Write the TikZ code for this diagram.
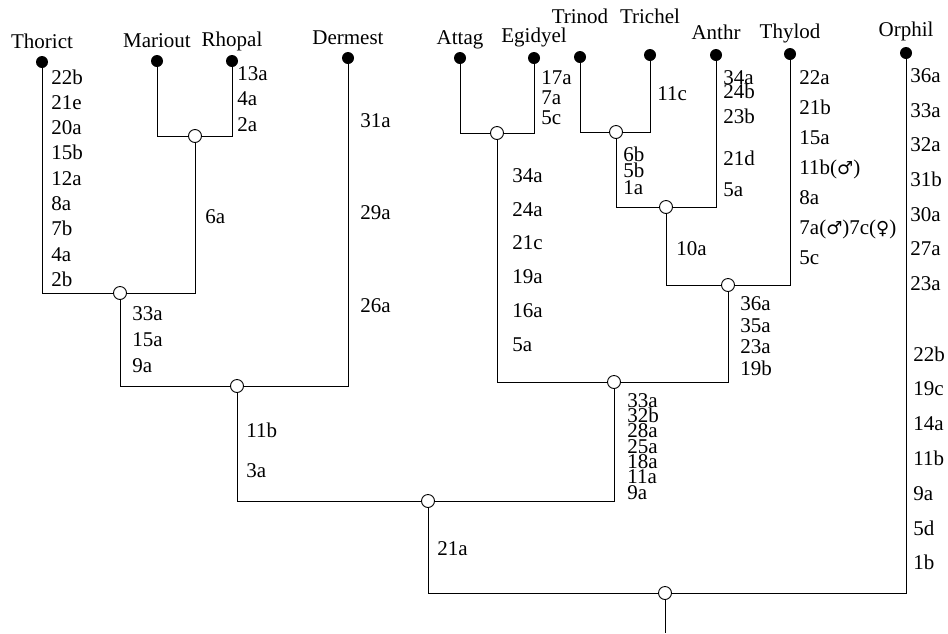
\documentclass[tikz,border=0pt]{standalone}
\usepackage{fontspec}
\setmainfont{Liberation Serif}
\newfontfamily\sexfont{DejaVu Sans}
\usetikzlibrary{positioning}
\lineskiplimit=-20pt
\newcommand\male{{\sexfont\fontsize{18}{18}\selectfont ♂}}
\newcommand\female{{\sexfont\fontsize{18}{18}\selectfont ♀}}

\begin{document}
\begin{tikzpicture}[x=1pt, y=-1pt, line width=0.9pt,
  leaf/.style={circle, fill, inner sep=0pt, minimum size=12pt},
  fork/.style={circle, draw, fill=white, inner sep=0pt, minimum size=13pt},
  taxon/.style={inner sep=0pt, text depth=0pt, font=\fontsize{21}{24}\selectfont},
  lab/.style={anchor=north west, align=left, inner sep=0pt,
    font=\fontsize{21}{#1}\selectfont},
  lab/.default=24]
  \useasboundingbox (0,0) rectangle (948,633);

  % terminal taxa
  \node[leaf] (thorict) at (42,62) {};
  \node[leaf] (mariout) at (157,61) {};
  \node[leaf] (rhopal) at (232,61) {};
  \node[leaf] (dermest) at (348,58) {};
  \node[leaf] (attag) at (460,58) {};
  \node[leaf] (egidyel) at (534,58) {};
  \node[leaf] (trinod) at (580,57) {};
  \node[leaf] (trichel) at (650,55) {};
  \node[leaf] (anthr) at (716,55) {};
  \node[leaf] (thylod) at (790,54) {};
  \node[leaf] (orphil) at (906,53) {};

  \node[taxon, above=7pt of thorict] (thorictname) {Thorict};
  \node[taxon, above=7pt of mariout] (marioutname) {Mariout};
  \node[taxon, above=8pt of rhopal] (rhopalname) {Rhopal};
  \node[taxon, above=7pt of dermest] (dermestname) {Dermest};
  \node[taxon, above=7pt of attag] (attagname) {Attag};
  \node[taxon, above=9pt of egidyel] (egidyelname) {Egidyel};
  \node[taxon, above=27pt of trinod] (trinodname) {Trinod};
  \node[taxon, above=25pt of trichel] (trichelname) {Trichel};
  \node[taxon, above=9pt of anthr] (anthrname) {Anthr};
  \node[taxon, above=9pt of thylod] (thylodname) {Thylod};
  \node[taxon, above=10pt of orphil] (orphilname) {Orphil};

  % internal nodes
  \node[fork] (mr) at (195,136) {};
  \node[fork] (tmr) at (120,293) {};
  \node[fork] (dt) at (237,386) {};
  \node[fork] (ae) at (497,133) {};
  \node[fork] (tt) at (616,132) {};
  \node[fork] (tta) at (666,207) {};
  \node[fork] (ttat) at (728,285) {};
  \node[fork] (aeall) at (614,382) {};
  \node[fork] (mid) at (428,501) {};
  \node[fork] (root) at (665,593) {};
  \coordinate (base) at (665,633);

  % branches
  \draw (mariout) |- (mr);
  \draw (rhopal) |- (mr);
  \draw (thorict) |- (tmr);
  \draw (mr) |- (tmr);
  \draw (tmr) |- (dt);
  \draw (dermest) |- (dt);
  \draw (attag) |- (ae);
  \draw (egidyel) |- (ae);
  \draw (trinod) |- (tt);
  \draw (trichel) |- (tt);
  \draw (tt) |- (tta);
  \draw (anthr) |- (tta);
  \draw (tta) |- (ttat);
  \draw (thylod) |- (ttat);
  \draw (ae) |- (aeall);
  \draw (ttat) |- (aeall);
  \draw (dt) |- (mid);
  \draw (aeall) |- (mid);
  \draw (mid) |- (root);
  \draw (orphil) |- (root);
  \draw (root) -- (base);

  % character states
  \node[lab=25.3] (thorictlab) at (51,69) {22b\\21e\\20a\\15b\\12a\\8a\\7b\\4a\\2b};
  \node[lab=25.5] (rhopallab) at (237,66) {13a\\4a\\2a};
  \node[lab] (mrlab) at (205,209) {6a};
  \node[lab=26] (tmrlab) at (132,306) {33a\\15a\\9a};
  \node[lab=92.5] (dermestlab) at (360,113) {31a\\29a\\26a};
  \node[lab=40] (dtlab) at (246,422) {11b\\3a};
  \node[lab] (midlab) at (437,541) {21a};
  \node[lab=20] (egidyellab) at (541,70) {17a\\7a\\5c};
  \node[lab=33.8] (aelab) at (512,168) {34a\\24a\\21c\\19a\\16a\\5a};
  \node[lab] (trichellab) at (657,86) {11c};
  \node[lab=16.5] (ttlab) at (623,146) {6b\\5b\\1a};
  \node[lab=14.5] (anthrlab) at (723,70) {34a\\24b\\[10pt]23b\\[28pt]21d\\[16pt]5a};
  \node[lab] (ttalab) at (676,241) {10a};
  \node[lab=30] (thylodlab) at (799,70) {22a\\21b\\15a\\11b(\male)\\8a\\7a(\male)7c(\female)\\5c};
  \node[lab=21.7] (ttatlab) at (740,296) {36a\\35a\\23a\\19b};
  \node[lab=15.3] (aealllab) at (627,393) {33a\\32b\\28a\\25a\\18a\\11a\\9a};
  \node[lab=34.7] (orphillab) at (910,68) {36a\\33a\\32a\\31b\\30a\\27a\\23a};
  \node[lab=34.8] (orphillabb) at (913,346) {22b\\19c\\14a\\11b\\9a\\5d\\1b};
\end{tikzpicture}
\end{document}
